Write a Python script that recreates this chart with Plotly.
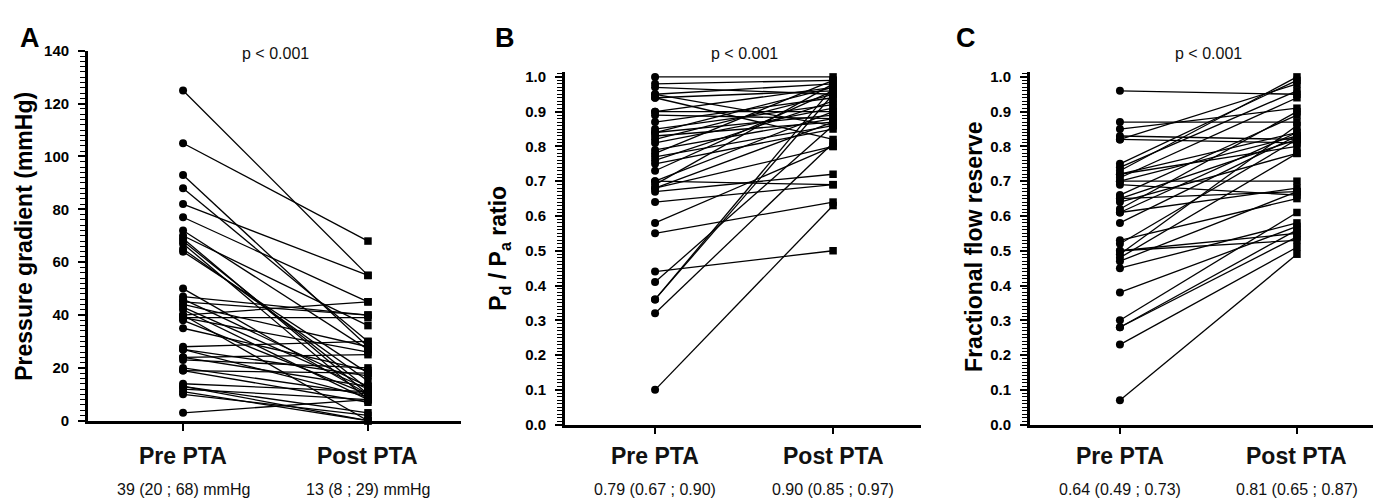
import plotly.graph_objects as go

categories = ["Pre PTA", "Post PTA"]

# Panel A: pressure gradient (mmHg)
pg_pre = [125, 105, 93, 88, 82, 77, 72, 70, 69, 68, 67, 65, 64, 50, 47, 46, 45, 44, 43, 42,
          40, 40, 39, 39, 38, 35, 28, 27, 27, 24, 24, 23, 20, 19, 19, 14, 13, 13, 12, 11, 10, 3]
pg_post = [55, 68, 28, 30, 55, 45, 27, 36, 10, 12, 8, 15, 18, 10, 40, 13, 40, 28, 12, 8,
           45, 0, 39, 26, 10, 19, 30, 17, 9, 25, 13, 20, 10, 7, 18, 11, 3, 0, 8, 0, 2, 8]

# Panel B: Pd/Pa ratio
pd_pre = [1.00, 0.98, 0.97, 0.95, 0.95, 0.94, 0.94, 0.90, 0.90, 0.89, 0.87, 0.85, 0.84, 0.84,
          0.83, 0.82, 0.81, 0.79, 0.78, 0.77, 0.76, 0.75, 0.73, 0.70, 0.70, 0.69, 0.68, 0.68,
          0.67, 0.64, 0.58, 0.55, 0.44, 0.41, 0.36, 0.36, 0.32, 0.10]
pd_post = [1.00, 0.99, 0.95, 0.86, 0.98, 0.82, 0.96, 0.90, 0.97, 0.88, 0.94, 0.92, 0.97, 0.89,
           0.87, 0.95, 0.91, 0.88, 0.99, 0.86, 0.93, 0.85, 0.96, 0.69, 0.90, 0.98, 0.80, 0.87,
           0.72, 0.69, 0.80, 0.64, 0.50, 0.86, 0.95, 0.97, 0.81, 0.63]

# Panel C: fractional flow reserve
ffr_pre = [0.96, 0.87, 0.85, 0.83, 0.82, 0.82, 0.75, 0.74, 0.73, 0.72, 0.72, 0.71, 0.70, 0.70,
           0.69, 0.66, 0.65, 0.65, 0.64, 0.62, 0.61, 0.61, 0.58, 0.53, 0.52, 0.50, 0.50, 0.49,
           0.48, 0.47, 0.45, 0.38, 0.30, 0.28, 0.28, 0.23, 0.07]
ffr_post = [0.95, 0.87, 0.91, 0.82, 0.81, 0.98, 0.99, 0.96, 1.00, 0.84, 0.80, 0.94, 0.70, 0.83,
            0.66, 0.89, 0.82, 0.67, 0.78, 0.90, 0.68, 0.84, 0.83, 0.65, 0.82, 0.55, 0.53, 0.86,
            0.78, 0.67, 0.58, 0.57, 0.61, 0.56, 0.54, 0.51, 0.49]

panel_letters = ["A", "B", "C"]
y_titles = ["Pressure gradient (mmHg)", "P<sub>d</sub> / P<sub>a</sub> ratio", "Fractional flow reserve"]
p_text = "p < 0.001"
summaries = [
    ["39 (20 ; 68) mmHg", "13 (8 ; 29) mmHg"],
    ["0.79 (0.67 ; 0.90)", "0.90 (0.85 ; 0.97)"],
    ["0.64 (0.49 ; 0.73)", "0.81 (0.65 ; 0.87)"],
]

W, H = 1381, 498
FONT = "Arial, Liberation Sans, Helvetica, sans-serif"

def px_x(p):
    return p / W

def px_y(p):
    return (H - p) / H

panels = [
    dict(pre=pg_pre, post=pg_post, xdom=(80, 453), ydom=(418, 35), xr=(-0.514, 1.503),
         yr=(0, 140), dtick=20, minor=2, fmt="d", letter_x=22, title_x=16.5, title_y=227),
    dict(pre=pd_pre, post=pd_post, xdom=(557, 913), ydom=(422, 56.6), xr=(-0.506, 1.494),
         yr=(0, 1.015), dtick=0.1, minor=0.01, fmt=".1f", letter_x=497, title_x=492, title_y=240),
    dict(pre=ffr_pre, post=ffr_post, xdom=(1022, 1375), ydom=(422, 56.6), xr=(-0.508, 1.486),
         yr=(0, 1.015), dtick=0.1, minor=0.01, fmt=".1f", letter_x=958, title_x=966, title_y=238),
]

xpos = list(range(len(categories)))

fig = go.Figure()
annotations = []

for i, p in enumerate(panels):
    n = i + 1
    xa = "x" if n == 1 else f"x{n}"
    ya = "y" if n == 1 else f"y{n}"
    lx, ly = [], []
    for a, b in zip(p["pre"], p["post"]):
        lx += [xpos[0], xpos[1], None]
        ly += [a, b, None]
    fig.add_trace(go.Scatter(x=lx, y=ly, mode="lines", line=dict(color="black", width=1.3),
                             xaxis=xa, yaxis=ya, showlegend=False, hoverinfo="skip"))
    fig.add_trace(go.Scatter(x=[xpos[0]] * len(p["pre"]), y=p["pre"], mode="markers",
                             marker=dict(symbol="circle", size=8, color="black"),
                             xaxis=xa, yaxis=ya, showlegend=False, cliponaxis=False))
    fig.add_trace(go.Scatter(x=[xpos[1]] * len(p["post"]), y=p["post"], mode="markers",
                             marker=dict(symbol="square", size=7.5, color="black"),
                             xaxis=xa, yaxis=ya, showlegend=False, cliponaxis=False))

    xk = "xaxis" if n == 1 else f"xaxis{n}"
    yk = "yaxis" if n == 1 else f"yaxis{n}"
    fig.layout[xk] = dict(
        domain=[px_x(p["xdom"][0]), px_x(p["xdom"][1])], range=list(p["xr"]), anchor=ya,
        showline=True, linecolor="black", linewidth=2.8, showgrid=False, zeroline=False,
        tickvals=xpos, ticktext=["", ""], ticks="outside", ticklen=7,
        tickwidth=2, tickcolor="black",
    )
    fig.layout[yk] = dict(
        domain=[px_y(p["ydom"][0]), px_y(p["ydom"][1])], range=list(p["yr"]), anchor=xa,
        showline=True, linecolor="black", linewidth=2.8, showgrid=False, zeroline=False,
        dtick=p["dtick"], tickformat=p["fmt"], ticks="outside",
        ticklen=7, tickwidth=2, tickcolor="black", ticklabelstandoff=6,
        tickfont=dict(family=FONT, size=15, color="black", weight="bold"),
        minor=dict(dtick=p["minor"], ticks="outside", ticklen=5, tickwidth=1.3,
                   tickcolor="black"),
    )

    annotations.append(dict(text=f"<b>{panel_letters[i]}</b>", x=px_x(p["letter_x"]), y=px_y(22),
                            xref="paper", yref="paper", showarrow=False,
                            font=dict(family=FONT, size=27, color="black"),
                            xanchor="center", yanchor="middle"))
    annotations.append(dict(text=f"<b>{y_titles[i]}</b>", x=px_x(p["title_x"]), y=px_y(p["title_y"]),
                            xref="paper", yref="paper", showarrow=False, textangle=-90,
                            font=dict(family=FONT, size=23, color="black"),
                            xanchor="center", yanchor="middle"))
    annotations.append(dict(text=p_text, x=0.5, y=px_y(38), xref=xa, yref="paper",
                            showarrow=False, font=dict(family=FONT, size=16, color="#111"),
                            xanchor="center", yanchor="middle"))
    for j, cat in enumerate(categories):
        annotations.append(dict(text=f"<b>{cat}</b>", x=xpos[j], y=px_y(454), xref=xa,
                                yref="paper", showarrow=False,
                                font=dict(family=FONT, size=23, color="#111"),
                                xanchor="center", yanchor="middle"))
        annotations.append(dict(text=summaries[i][j], x=xpos[j], y=px_y(489), xref=xa,
                                yref="paper", showarrow=False,
                                font=dict(family=FONT, size=16, color="#111"),
                                xanchor="center", yanchor="middle"))

fig.update_layout(
    width=W, height=H, margin=dict(l=0, r=0, t=0, b=0),
    paper_bgcolor="white", plot_bgcolor="white",
    annotations=annotations, showlegend=False,
)

fig.write_html("out.html", config={"displayModeBar": False})
